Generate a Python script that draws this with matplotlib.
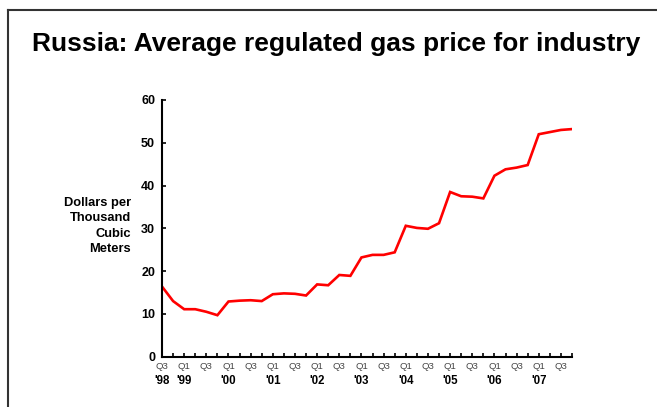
import matplotlib
matplotlib.use("Agg")
import matplotlib.pyplot as plt
from matplotlib.lines import Line2D

quarters = ["Q3", "Q4"] + ["Q1", "Q2", "Q3", "Q4"] * 9
quarters = quarters[:38]
prices = [16.4, 13.0, 11.1, 11.1, 10.5, 9.7, 12.9, 13.1, 13.2, 13.0,
          14.6, 14.8, 14.7, 14.3, 16.9, 16.7, 19.1, 18.9, 23.2, 23.8,
          23.8, 24.4, 30.6, 30.1, 29.9, 31.2, 38.5, 37.5, 37.4, 37.0,
          42.3, 43.8, 44.2, 44.8, 52.0, 52.5, 53.0, 53.2]
year_labels = ["'98", "'99", "'00", "'01", "'02", "'03", "'04", "'05", "'06", "'07"]
year_pos = [0, 2, 6, 10, 14, 18, 22, 26, 30, 34]
y_ticks = [0, 10, 20, 30, 40, 50, 60]

plt.rcParams['font.family'] = ['Liberation Sans', 'DejaVu Sans']

fig = plt.figure(figsize=(6.57, 4.07), dpi=100)
fig.patch.set_facecolor('white')

# frame lines
fig.add_artist(Line2D([7.5/657, 7.5/657], [0, 1 - 10/407], transform=fig.transFigure,
                      color='#333333', lw=1.5))
fig.add_artist(Line2D([7.5/657, 1], [1 - 10/407, 1 - 10/407], transform=fig.transFigure,
                      color='#333333', lw=1.5))

fig.text(336/657, 1 - 50.7/407, "Russia: Average regulated gas price for industry",
         ha='center', va='baseline', fontsize=19, fontweight='bold', color='black')

ax = fig.add_axes([162/657, 50.3/407, 410/657, 256.7/407])
x = list(range(len(prices)))
ax.plot(x, prices, color='#FF0000', lw=1.9, solid_joinstyle='miter')
ax.set_xlim(0, 37)
ax.set_ylim(0, 60)
for s in ['top', 'right']:
    ax.spines[s].set_visible(False)
for s in ['left', 'bottom']:
    ax.spines[s].set_linewidth(1.5)
    ax.spines[s].set_color('black')

ax.set_yticks(y_ticks)
ax.set_yticklabels([str(v) for v in y_ticks], fontsize=9, fontweight='bold')
ax.tick_params(axis='y', direction='in', length=3, width=1.2, pad=5)

ax.set_xticks(x)
ax.set_xticklabels([q if i % 2 == 0 else "" for i, q in enumerate(quarters)],
                   fontsize=6.8, color='#444444')
ax.tick_params(axis='x', direction='in', length=3, width=1.2, pad=3.5)

for p, lab in zip(year_pos, year_labels):
    ax.annotate(lab, xy=(p, 0), xycoords='data', xytext=(0, -17.5),
                textcoords='offset points', ha='center', va='center',
                fontsize=8.3, fontweight='bold', annotation_clip=False)

fig.text(131/657, 1 - 226/407, "Dollars per\nThousand\nCubic\nMeters",
         ha='right', va='center', fontsize=9.3, fontweight='bold',
         linespacing=1.37, multialignment='right')

fig.savefig("out.png", dpi=100, facecolor='white')
